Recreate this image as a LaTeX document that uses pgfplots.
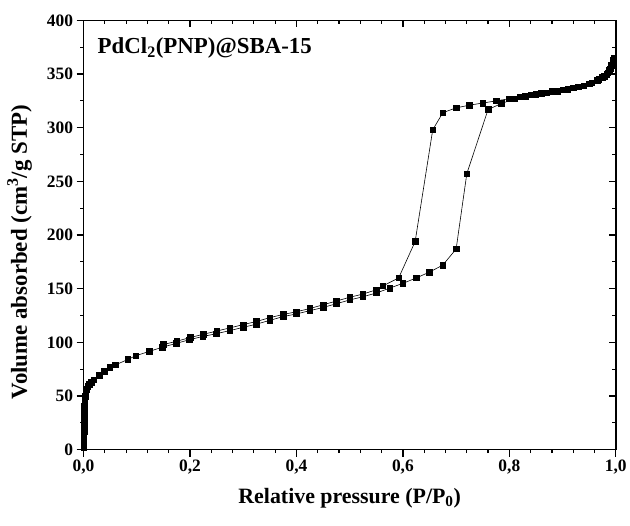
\documentclass[border=0pt]{standalone}
\usepackage{pgfplots}
\pgfplotsset{compat=1.18}
\usepackage{fontspec}
\setmainfont{Liberation Serif}
\begin{document}
\begin{tikzpicture}
\pgfplotsset{commonax/.style={
  scale only axis, width=535pt, height=431.5pt,
  xmin=0, xmax=1, ymin=0, ymax=400,
  xtick={0,0.2,0.4,0.6,0.8,1.0}, ytick={0,50,...,400},
  minor x tick num=4, minor y tick num=1,
  axis line style={line width=1.4pt},
  major tick length=7pt, minor tick length=3.5pt,
  every tick/.style={black, line width=1.2pt},
}}
\begin{axis}[commonax,
  tick align=outside, xtick pos=left, ytick pos=left,
  /pgf/number format/assume math mode=true,
  ticklabel style={font=\fontsize{17.5}{20}\selectfont\bfseries},
  xticklabel style={/pgf/number format/.cd, fixed, fixed zerofill, precision=1, use comma},
  yticklabel style={/pgf/number format/.cd, fixed, precision=0},
  xlabel={Relative pressure (P/P$_{\mathbf{0}}$)},
  ylabel={Volume absorbed (cm$^{\mathbf{3}}$/g STP)},
  xlabel style={font=\fontsize{22}{26}\selectfont\bfseries, at={(axis description cs:0.5,-0.125)}, anchor=base},
  ylabel style={font=\fontsize{23}{26}\selectfont\bfseries, at={(axis description cs:-0.12,0.46)}, anchor=center},
]
% adsorption
\addplot[black, line width=0.6pt, mark=square*, mark size=2.8pt] coordinates {
(0.0004,2) (0.0005,5) (0.0006,8) (0.0007,11) (0.0008,14) (0.0009,17) (0.001,20)
(0.0011,23) (0.0012,26) (0.0013,29) (0.0014,32) (0.0015,35) (0.0016,38) (0.0018,41)
(0.002,44) (0.0025,47) (0.003,49.5)
(0.004,53) (0.006,56.5) (0.008,59) (0.011,61) (0.015,63) (0.019,65) (0.03,69.5)
(0.039,73) (0.049,76.5) (0.06,79) (0.083,84) (0.098,87.5) (0.123,91.5) (0.148,95.5)
(0.174,99) (0.199,102.5) (0.224,105.5) (0.249,108) (0.275,111) (0.3,114) (0.325,117)
(0.35,120.5) (0.375,124) (0.4,126.5) (0.425,129.5) (0.45,132.5) (0.475,136) (0.5,139.5)
(0.525,142.5) (0.55,146) (0.575,150.5) (0.6,155) (0.625,160) (0.65,165.5) (0.675,172)
(0.70,187) (0.72,257) (0.76,317) (0.785,322.5) (0.81,327) (0.83,329.5) (0.85,331)
(0.87,332.5) (0.89,334) (0.91,336) (0.93,338) (0.95,341) (0.965,344) (0.975,347)
(0.983,350) (0.988,354) (0.992,358) (0.995,363)
};
% desorption
\addplot[black, line width=0.6pt, mark=square*, mark size=2.8pt] coordinates {
(0.996,365) (0.99,355) (0.985,351) (0.978,348) (0.968,345) (0.955,342) (0.94,339)
(0.92,337) (0.90,335.5) (0.88,334) (0.86,332) (0.84,330.5) (0.82,329) (0.80,327)
(0.775,325) (0.75,323) (0.725,321) (0.70,318.5) (0.675,314) (0.656,298) (0.623,194)
(0.592,160) (0.562,152.5) (0.55,149) (0.525,145) (0.5,142) (0.475,138.5) (0.45,135)
(0.425,131.5) (0.4,128.5) (0.375,126) (0.35,123) (0.325,119.5) (0.3,116.5)
(0.275,113.5) (0.25,110.5) (0.225,107.5) (0.2,104.5) (0.175,101) (0.15,98)
};
\node[anchor=base west, font=\fontsize{23}{26}\selectfont\bfseries]
  at (rel axis cs:0.02,0.923) {PdCl$_{\mathbf{2}}$(PNP)@SBA-15};
\end{axis}
\begin{axis}[commonax,
  tick align=inside, xtick pos=right, ytick pos=right,
  xticklabels={}, yticklabels={},
]
\end{axis}
\path (current axis.south west) ++(-84pt,-76pt) rectangle ++(630pt,528pt);
\end{tikzpicture}
\end{document}
